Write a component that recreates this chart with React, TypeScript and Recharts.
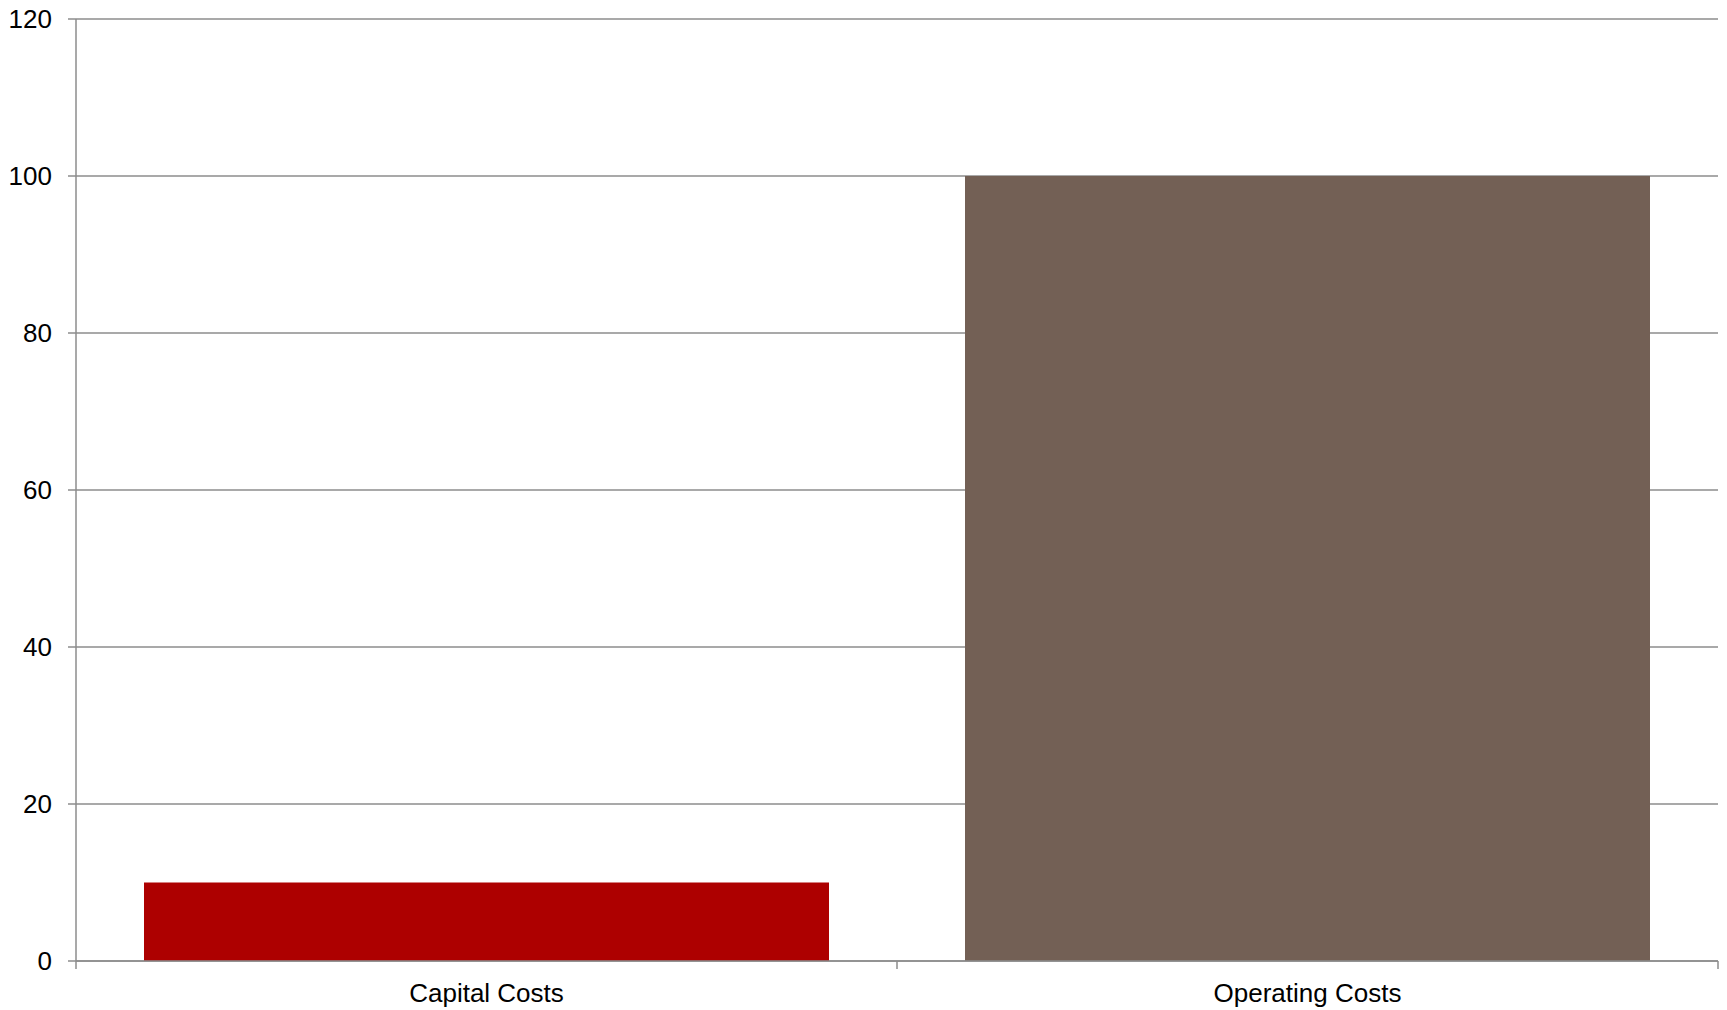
import React from 'react';
import { BarChart, Bar, XAxis, YAxis, CartesianGrid, Cell } from 'recharts';

const categories = ['Capital Costs', 'Operating Costs'];
const costValues = [10, 100];
const barColors = ['#ad0000', '#736055'];
const yTicks = [0, 20, 40, 60, 80, 100, 120];

const data = categories.map((name, i) => ({ name, value: costValues[i] }));

const AXIS = '#8c8c8c';
const FONT = '"Liberation Sans", Arial, sans-serif';
const TICK = 8;
const GAP = 15;

// category axis: ticks sit on the band edges, labels on the centers
const CategoryTick = (props: any) => {
  const { x, y, payload, index } = props;
  const band = (1718 - 76) / categories.length;
  const half = band / 2;
  const top = y - TICK - GAP;
  return (
    <g>
      <line x1={x - half} x2={x - half} y1={top} y2={top + TICK} stroke={AXIS} strokeWidth={1.5} />
      {index === categories.length - 1 && (
        <line x1={x + half} x2={x + half} y1={top} y2={top + TICK} stroke={AXIS} strokeWidth={1.5} />
      )}
      <text x={x} y={y} dy="0.71em" textAnchor="middle" fill="#000" fontSize={26} fontFamily={FONT}>
        {payload.value}
      </text>
    </g>
  );
};

const App: React.FC = () => {
  return (
    <div style={{ position: 'absolute', left: 0, top: 0, width: 1727, height: 1010, background: '#fff' }}>
      <BarChart
        width={1727}
        height={1010}
        data={data}
        margin={{ top: 19, right: 9, left: 0, bottom: 9 }}
        barCategoryGap={68}
      >
        <CartesianGrid vertical={false} stroke={AXIS} strokeWidth={1.5} />
        <XAxis
          dataKey="name"
          height={40}
          axisLine={{ stroke: AXIS, strokeWidth: 1.5 }}
          tickLine={{ stroke: 'none' }}
          tickSize={TICK}
          tickMargin={GAP}
          interval={0}
          tick={<CategoryTick />}
        />
        <YAxis
          width={76}
          domain={[0, 120]}
          ticks={yTicks}
          interval={0}
          axisLine={{ stroke: AXIS, strokeWidth: 1.5 }}
          tickLine={{ stroke: AXIS, strokeWidth: 1.5 }}
          tickSize={8}
          tickMargin={16}
          tick={{ fill: '#000', fontSize: 26, fontFamily: FONT }}
        />
        <Bar dataKey="value" isAnimationActive={false}>
          {data.map((entry, index) => (
            <Cell key={`cell-${index}`} fill={barColors[index]} />
          ))}
        </Bar>
      </BarChart>
    </div>
  );
};

export default App;
